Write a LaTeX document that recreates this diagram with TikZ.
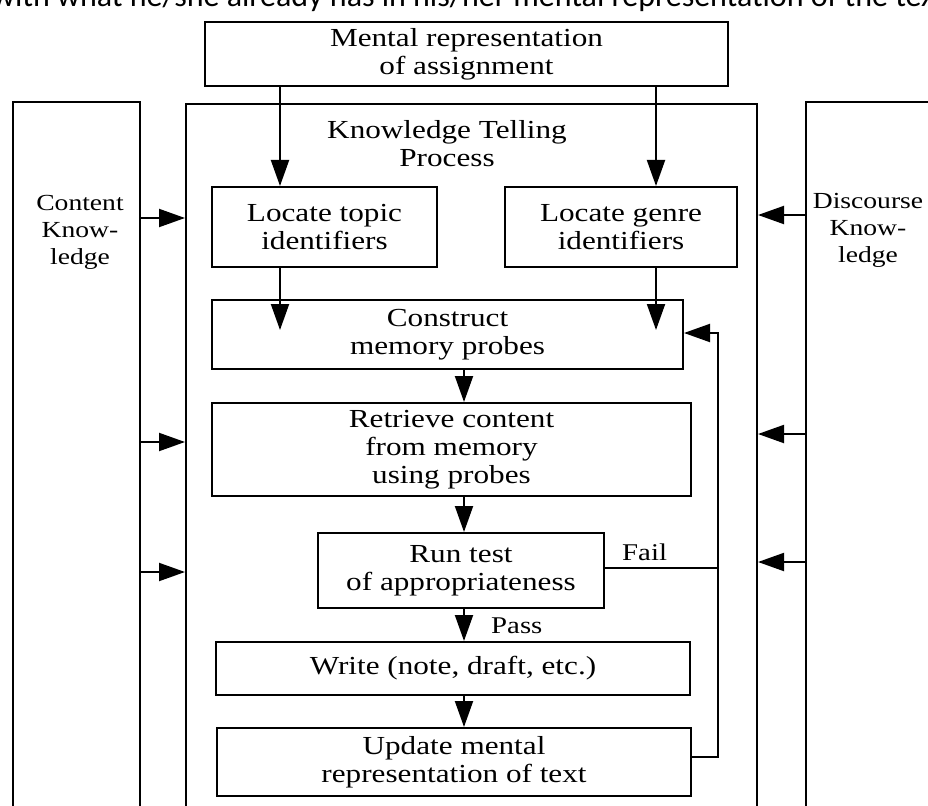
\documentclass[tikz,border=0pt]{standalone}
\usepackage{fontspec}
\setmainfont{Liberation Serif}[FakeStretch=1.2]
\newfontfamily\capfont{Carlito}
\usetikzlibrary{arrows.meta}
\newcommand\mainsz{\fontsize{26}{28}\selectfont}
\newcommand\sidesz{\fontsize{23}{27}\selectfont}
\newcommand\lblsz{\fontsize{24}{28}\selectfont}
\newcommand\capsz{\capfont\fontsize{32}{34}\selectfont}
\begin{document}
\begin{tikzpicture}[x=1pt,y=-1pt,
  box/.style={draw,line width=2pt,align=center,inner sep=0pt,font=\mainsz},
  bigbox/.style={draw,line width=2pt,inner sep=0pt},
  side/.style={align=center,inner sep=0pt,font=\sidesz},
  txt/.style={align=center,inner sep=0pt,font=\mainsz},
  lbl/.style={inner sep=0pt,font=\lblsz,anchor=base west},
  arr/.style={line width=2pt,-{Triangle[length=26pt,width=18pt]}},
  conn/.style={line width=2pt}]
\useasboundingbox (0,0) rectangle (928,805);
\clip (0,0) rectangle (928,805);
% cut-off caption line at the very top
\node[anchor=base west,inner sep=0pt,font=\capsz] (cap) at (-8,7) {with what he/she already has in his/her mental representation of the text};
% big frames
\node[bigbox,minimum width=127pt,minimum height=740pt] (content) at (76.5,472) {};
\node[bigbox,minimum width=571pt,minimum height=740pt] (main) at (471.5,474) {};
\node[bigbox,minimum width=160pt,minimum height=740pt] (discourse) at (886,472) {};
\node[side] (ctext) at (80,232) {Content\\Know-\\ledge};
\node[side] (dtext) at (868,230) {Discourse\\Know-\\ledge};
\node[txt] (ktp) at (447,144) {Knowledge Telling\\Process};
% boxes
\node[box,minimum width=523pt,minimum height=64pt] (top) at (466.5,54) {Mental representation\\of assignment};
\node[box,minimum width=225pt,minimum height=80pt] (topic) at (324.5,227) {Locate topic\\identifiers};
\node[box,minimum width=232pt,minimum height=80pt] (genre) at (621,227) {Locate genre\\identifiers};
\node[box,minimum width=471pt,minimum height=69pt] (construct) at (447.5,334.5) {Construct\\memory probes};
\node[box,minimum width=479pt,minimum height=93pt] (retrieve) at (451.5,449.5) {Retrieve content\\from memory\\using probes};
\node[box,minimum width=286pt,minimum height=75pt] (runtest) at (461,570.5) {Run test\\of appropriateness};
\node[box,minimum width=474pt,minimum height=53pt] (write) at (453,668.5) {Write (note, draft, etc.)};
\node[box,minimum width=474pt,minimum height=68pt] (update) at (454,762) {Update mental\\representation of text};
% labels
\node[lbl] (fail) at (622,560) {Fail};
\node[lbl] (pass) at (491,633) {Pass};
% helper coordinates
\coordinate (xa) at (280,0);
\coordinate (xb) at (656,0);
\coordinate (xc) at (464,0);
\coordinate (ptip) at (0,330);
\coordinate (ya) at (0,218);
\coordinate (yb) at (0,442);
\coordinate (yc) at (0,572);
\coordinate (yd) at (0,215);
\coordinate (ye) at (0,434);
\coordinate (yf) at (0,562);
\coordinate (fbx) at (718,333);
\coordinate (fby) at (0,757);
\coordinate (faily) at (0,568);
% vertical flow
\draw[arr] (top.south -| xa) -- (topic.north -| xa);
\draw[arr] (top.south -| xb) -- (genre.north -| xb);
\draw[arr] (topic.south -| xa) -- (xa |- ptip);
\draw[arr] (genre.south -| xb) -- (xb |- ptip);
\draw[arr] (construct.south -| xc) -- (retrieve.north -| xc);
\draw[arr] (retrieve.south -| xc) -- (runtest.north -| xc);
\draw[arr] (runtest.south -| xc) -- (write.north -| xc);
\draw[arr] (write.south -| xc) -- (update.north -| xc);
% knowledge inputs
\draw[arr] (content.east |- ya) -- (main.west |- ya);
\draw[arr] (content.east |- yb) -- (main.west |- yb);
\draw[arr] (content.east |- yc) -- (main.west |- yc);
\draw[arr] (discourse.west |- yd) -- (main.east |- yd);
\draw[arr] (discourse.west |- ye) -- (main.east |- ye);
\draw[arr] (discourse.west |- yf) -- (main.east |- yf);
% feedback loop
\draw[arr] (update.east |- fby) -| (fbx) -- (construct.east |- fbx);
\draw[conn] (runtest.east |- faily) -- (fbx |- faily);
\end{tikzpicture}
\end{document}
